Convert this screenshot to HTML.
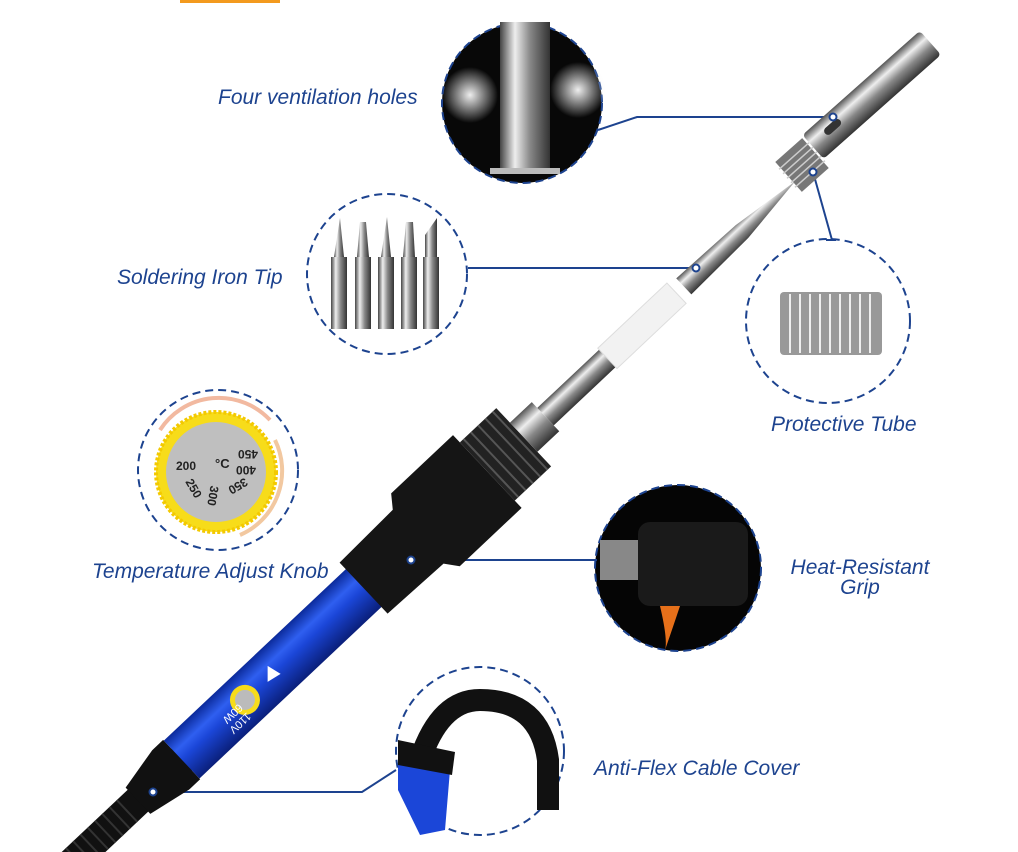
<!DOCTYPE html>
<html><head><meta charset="utf-8"><style>
html,body{margin:0;padding:0;background:#fff;width:1018px;height:852px;overflow:hidden;}
svg{display:block}
text{font-family:"Liberation Sans",sans-serif;font-style:italic;fill:#1d438f;font-size:21px}
</style></head><body>
<svg width="1018" height="852" viewBox="0 0 1018 852" xmlns="http://www.w3.org/2000/svg">
<defs>
<linearGradient id="blue" x1="0" y1="0" x2="0" y2="1">
<stop offset="0" stop-color="#0b2a9a"/><stop offset="0.3" stop-color="#2f5ff0"/><stop offset="0.5" stop-color="#1b46d8"/><stop offset="1" stop-color="#0a1f7a"/></linearGradient>
<linearGradient id="metal" x1="0" y1="0" x2="0" y2="1">
<stop offset="0" stop-color="#555"/><stop offset="0.3" stop-color="#eee"/><stop offset="0.6" stop-color="#888"/><stop offset="1" stop-color="#333"/></linearGradient>
<linearGradient id="metalh" x1="0" y1="0" x2="1" y2="0">
<stop offset="0" stop-color="#444"/><stop offset="0.3" stop-color="#eee"/><stop offset="0.6" stop-color="#888"/><stop offset="1" stop-color="#333"/></linearGradient>
<radialGradient id="smoke"><stop offset="0" stop-color="#eee"/><stop offset="1" stop-color="#eee" stop-opacity="0"/></radialGradient>
</defs>
<rect x="180" y="0" width="100" height="3" fill="#f39a1e"/>

<!-- circle 1 ventilation -->
<circle cx="522" cy="103" r="80" fill="#080808" stroke="#1d438f" stroke-width="2" stroke-dasharray="8 5"/>
<rect x="500" y="22" width="50" height="150" fill="url(#metalh)"/>
<rect x="490" y="168" width="70" height="6" fill="#bbb"/>
<circle cx="470" cy="95" r="28" fill="url(#smoke)"/>
<circle cx="578" cy="90" r="28" fill="url(#smoke)"/>

<!-- circle 2 tips -->
<circle cx="387" cy="274" r="80" fill="#fff" stroke="#1d438f" stroke-width="2" stroke-dasharray="8 5"/>
<g fill="url(#metalh)">
<rect x="331" y="257" width="16" height="72"/><polygon points="334,257 344,257 340,218"/>
<rect x="355" y="257" width="16" height="72"/><polygon points="357,257 369,257 366,222 360,222"/>
<rect x="378" y="257" width="16" height="72"/><polygon points="381,257 391,257 387,217"/>
<rect x="401" y="257" width="16" height="72"/><polygon points="403,257 415,257 413,222 406,222"/>
<rect x="423" y="257" width="16" height="72"/><polygon points="425,257 437,257 437,218 425,235"/>
</g>

<!-- circle 3 knob -->
<circle cx="218" cy="470" r="80" fill="#fff" stroke="#1d438f" stroke-width="2" stroke-dasharray="8 5"/>
<path d="M160 430 A70 70 0 0 1 270 420" fill="none" stroke="#f2b9a0" stroke-width="4"/>
<path d="M275 440 A70 70 0 0 1 240 535" fill="none" stroke="#f2c8a0" stroke-width="4"/>
<circle cx="216" cy="472" r="60" fill="#f7dc1a" stroke="#f3c900" stroke-width="4" stroke-dasharray="3 2"/>
<circle cx="216" cy="472" r="50" fill="#bfbfbf"/>
<g>
<text x="176" y="470" style="font-style:normal;font-size:12px;fill:#222;font-weight:bold">200</text>
<text x="215" y="468" style="font-style:normal;font-size:13px;fill:#222;font-weight:bold">°C</text>
<text x="238" y="458" style="font-style:normal;font-size:12px;fill:#222;font-weight:bold" transform="rotate(180 248 454)">450</text>
<text x="236" y="474" style="font-style:normal;font-size:12px;fill:#222;font-weight:bold" transform="rotate(180 246 470)">400</text>
<text x="228" y="490" style="font-style:normal;font-size:12px;fill:#222;font-weight:bold" transform="rotate(150 238 486)">350</text>
<text x="205" y="500" style="font-style:normal;font-size:12px;fill:#222;font-weight:bold" transform="rotate(100 214 495)">300</text>
<text x="185" y="492" style="font-style:normal;font-size:12px;fill:#222;font-weight:bold" transform="rotate(60 194 487)">250</text>
</g>

<!-- circle 4 protective tube -->
<circle cx="828" cy="321" r="82" fill="#fff" stroke="#1d438f" stroke-width="2" stroke-dasharray="8 5"/>
<rect x="780" y="292" width="102" height="63" rx="4" fill="#999"/>
<g stroke="#eee" stroke-width="2">
<line x1="790" y1="294" x2="790" y2="353"/><line x1="800" y1="294" x2="800" y2="353"/><line x1="810" y1="294" x2="810" y2="353"/><line x1="820" y1="294" x2="820" y2="353"/><line x1="830" y1="294" x2="830" y2="353"/><line x1="840" y1="294" x2="840" y2="353"/><line x1="850" y1="294" x2="850" y2="353"/><line x1="860" y1="294" x2="860" y2="353"/><line x1="870" y1="294" x2="870" y2="353"/></g>

<!-- circle 5 grip -->
<circle cx="678" cy="568" r="83" fill="#050505" stroke="#1d438f" stroke-width="2" stroke-dasharray="8 5"/>
<rect x="600" y="540" width="40" height="40" fill="#888"/>
<rect x="638" y="522" width="110" height="84" rx="12" fill="#1a1a1a"/>
<path d="M660 606 Q668 640 665 650 Q672 630 680 606 Z" fill="#e6701a"/>

<!-- circle 6 cable -->
<circle cx="480" cy="751" r="84" fill="#fff" stroke="#1d438f" stroke-width="2" stroke-dasharray="8 5"/>
<path d="M420 760 Q440 700 480 700 Q540 700 548 760 L548 810" fill="none" stroke="#111" stroke-width="22"/>
<path d="M398 758 L450 770 L445 830 L420 835 L398 790 Z" fill="#1b46d8"/>
<polygon points="398,740 455,752 452,775 398,765" fill="#111"/>

<!-- connectors -->
<g stroke="#1d438f" stroke-width="2" fill="none">
<polyline points="598,130 637,117 833,117"/>
<line x1="468" y1="268" x2="696" y2="268"/>
<polyline points="813,172 832,240"/><line x1="826" y1="240" x2="836" y2="240"/>
<line x1="411" y1="560" x2="597" y2="560"/>
<polyline points="153,792 362,792 396,770"/>
</g>

<!-- iron -->
<g transform="translate(178,763) rotate(-43.3)">
<rect x="-160" y="-15" width="170" height="30" fill="#111"/>
<g stroke="#333" stroke-width="2"><line x1="-150" y1="-15" x2="-150" y2="15"/><line x1="-140" y1="-15" x2="-140" y2="15"/><line x1="-130" y1="-15" x2="-130" y2="15"/><line x1="-120" y1="-15" x2="-120" y2="15"/><line x1="-110" y1="-15" x2="-110" y2="15"/><line x1="-100" y1="-15" x2="-100" y2="15"/><line x1="-90" y1="-15" x2="-90" y2="15"/><line x1="-80" y1="-15" x2="-80" y2="15"/><line x1="-70" y1="-15" x2="-70" y2="15"/></g>
<polygon points="-55,-18 -10,-27 5,-27 5,27 -10,27 -55,18" fill="#111"/>
<rect x="5" y="-26" width="262" height="52" fill="url(#blue)"/>
<polygon points="255,-35 330,-37 340,-50 425,-50 425,50 340,50 330,37 255,35" fill="#151515"/>
<rect x="425" y="-40" width="50" height="80" fill="#222"/>
<g stroke="#555" stroke-width="2"><line x1="430" y1="-40" x2="430" y2="40"/><line x1="440" y1="-40" x2="440" y2="40"/><line x1="450" y1="-40" x2="450" y2="40"/><line x1="460" y1="-40" x2="460" y2="40"/><line x1="470" y1="-40" x2="470" y2="40"/></g>
<rect x="475" y="-20" width="30" height="40" fill="url(#metal)"/>
<rect x="505" y="-12" width="90" height="24" fill="url(#metal)"/>
<rect x="590" y="-14" width="95" height="28" fill="#f2f2f2" stroke="#ddd"/>
<polygon points="695,-11 775,-9 848,0 775,9 695,11" fill="url(#metal)"/>
<circle cx="92" cy="0" r="15" fill="#f7dc1a"/><circle cx="92" cy="0" r="10" fill="#bbb"/>
<polygon points="125,-8 125,8 138,0" fill="#fff" transform="rotate(43.3 130 0)"/>
<text x="55" y="22" transform="rotate(180 70 16)" style="font-style:normal;font-size:11px;fill:#fff">110V</text>
<text x="55" y="8" transform="rotate(180 70 3)" style="font-style:normal;font-size:11px;fill:#fff">60W</text>
</g>

<!-- tube & nut -->
<g transform="translate(813,147) rotate(-41.6)">
<rect x="0" y="-16" width="157" height="32" rx="4" fill="url(#metal)"/>
<rect x="18" y="-6" width="20" height="8" rx="4" fill="#333"/>
</g>
<g transform="translate(802,165) rotate(-41.6)">
<rect x="-18" y="-20" width="36" height="40" fill="#777"/>
<g stroke="#ccc" stroke-width="1.5"><line x1="-20" y1="-12" x2="20" y2="-12"/><line x1="-20" y1="-6" x2="20" y2="-6"/><line x1="-20" y1="0" x2="20" y2="0"/><line x1="-20" y1="6" x2="20" y2="6"/><line x1="-20" y1="12" x2="20" y2="12"/></g>
</g>

<!-- dots -->
<g fill="#fff" stroke="#1d438f" stroke-width="2">
<circle cx="833" cy="117" r="3.5"/><circle cx="696" cy="268" r="3.5"/><circle cx="813" cy="172" r="3.5"/><circle cx="411" cy="560" r="3.5"/><circle cx="153" cy="792" r="3.5"/></g>

<!-- labels -->
<text x="218" y="104">Four ventilation holes</text>
<text x="117" y="284">Soldering Iron Tip</text>
<text x="92" y="578">Temperature Adjust Knob</text>
<text x="771" y="431">Protective Tube</text>
<text x="860" y="574" text-anchor="middle">Heat-Resistant</text>
<text x="860" y="594" text-anchor="middle">Grip</text>
<text x="594" y="775">Anti-Flex Cable Cover</text>
</svg>
</body></html>
